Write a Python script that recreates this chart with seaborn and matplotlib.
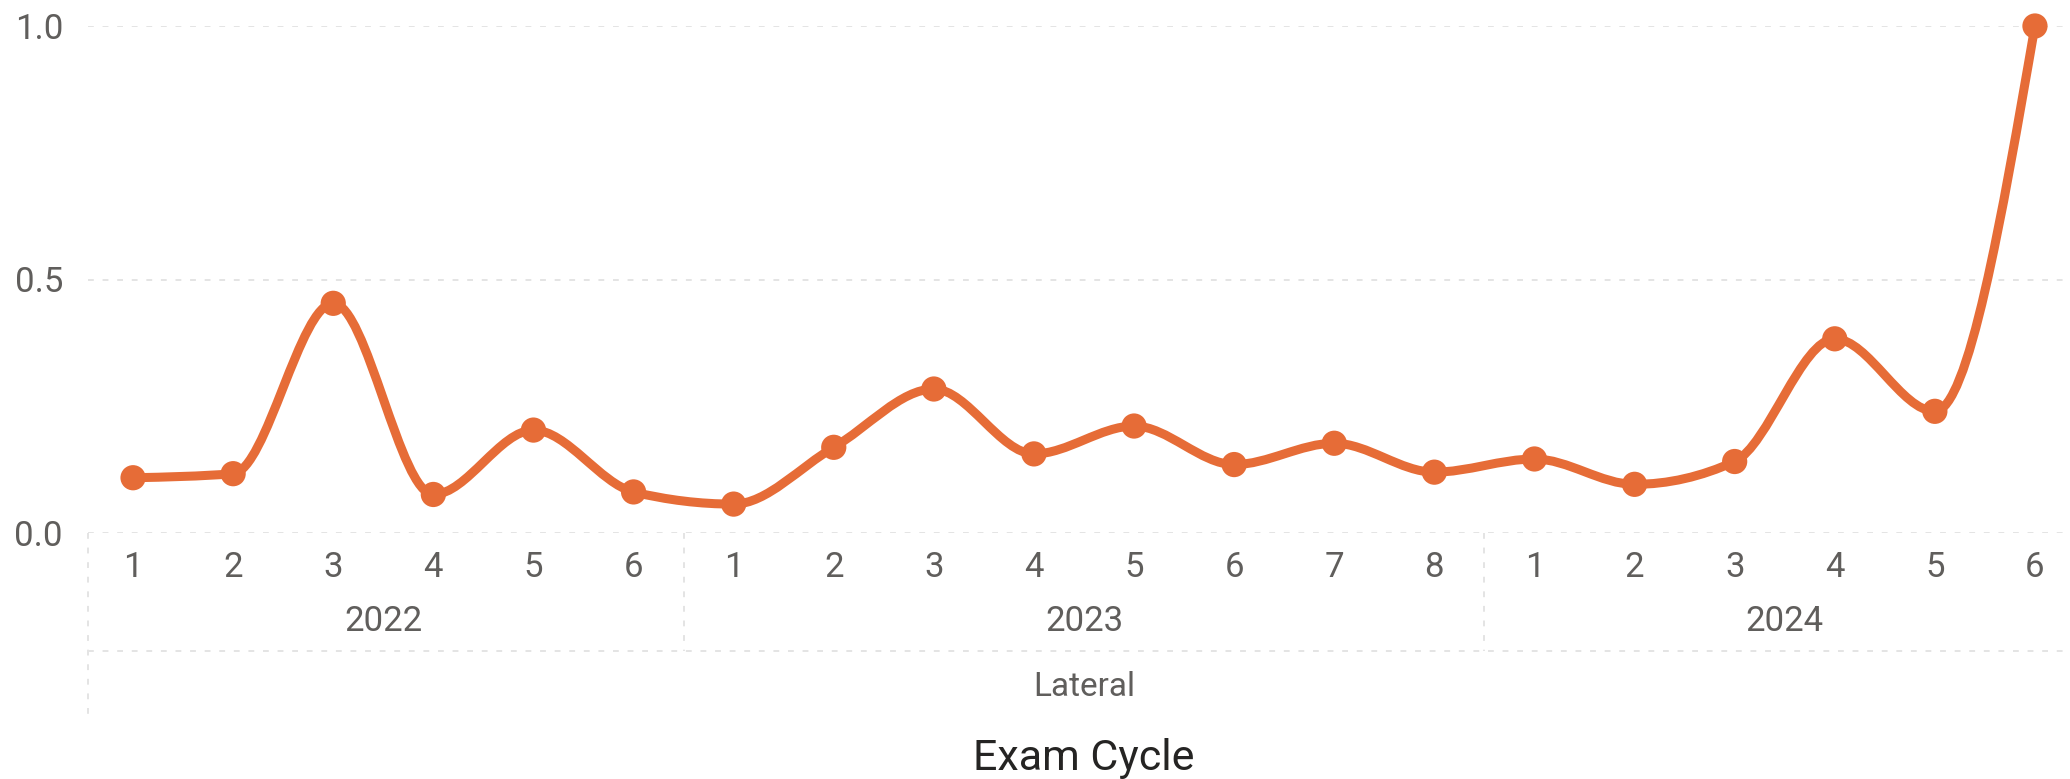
import numpy as np
import pandas as pd
import matplotlib.pyplot as plt
import seaborn as sns
from matplotlib.path import Path
from matplotlib.patches import PathPatch

# Exam cycle results, grouped by year
years = ["2022", "2023", "2024"]
cycles_per_year = [6, 8, 6]
cycle_labels = ["1", "2", "3", "4", "5", "6",
                "1", "2", "3", "4", "5", "6", "7", "8",
                "1", "2", "3", "4", "5", "6"]
values = [0.109, 0.117, 0.453, 0.076, 0.203, 0.081,
          0.057, 0.169, 0.284, 0.156, 0.211, 0.135, 0.177, 0.120,
          0.146, 0.096, 0.141, 0.383, 0.240, 1.0]
y_ticks = [0.0, 0.5, 1.0]
y_tick_labels = ["0.0", "0.5", "1.0"]
group_label = "Lateral"
x_title = "Exam Cycle"

LINE_COLOR = "#E66C37"
TICK_COLOR = "#605E5C"
TITLE_COLOR = "#252423"
GRID_COLOR = "#E4E4E4"

sns.set_theme(style="white")
plt.rcParams["font.family"] = ["Roboto", "DejaVu Sans"]

df = pd.DataFrame({"pos": np.arange(len(values)), "cycle": cycle_labels, "value": values})


def monotone_path(x, y):
    """Monotone cubic (d3 curveMonotoneX style) as a bezier path through the points."""
    n = len(x)
    t = np.zeros(n)
    for i in range(1, n - 1):
        h0, h1 = x[i] - x[i - 1], x[i + 1] - x[i]
        s0, s1 = (y[i] - y[i - 1]) / h0, (y[i + 1] - y[i]) / h1
        p = (s0 * h1 + s1 * h0) / (h0 + h1)
        t[i] = (np.sign(s0) + np.sign(s1)) * min(abs(s0), abs(s1), 0.5 * abs(p))
    t[0] = (3 * (y[1] - y[0]) / (x[1] - x[0]) - t[1]) / 2
    t[-1] = (3 * (y[-1] - y[-2]) / (x[-1] - x[-2]) - t[-2]) / 2
    verts, codes = [(x[0], y[0])], [Path.MOVETO]
    for i in range(n - 1):
        dx = x[i + 1] - x[i]
        verts += [(x[i] + dx / 3, y[i] + t[i] * dx / 3),
                  (x[i + 1] - dx / 3, y[i + 1] - t[i + 1] * dx / 3),
                  (x[i + 1], y[i + 1])]
        codes += [Path.CURVE4] * 3
    return Path(verts, codes)


fig = plt.figure(figsize=(20.7, 7.79), dpi=100)
ax = fig.add_axes([88 / 2070, 1 - 533 / 779, (2070 - 88) / 2070, (533 - 26) / 779])

# smoothed line + markers
xs = df["pos"].to_numpy(dtype=float)
ys = df["value"].to_numpy(dtype=float)
ax.add_patch(PathPatch(monotone_path(xs, ys), fill=False, edgecolor=LINE_COLOR,
                       lw=6.5, capstyle="round", joinstyle="round", clip_on=False, zorder=3))
sns.scatterplot(data=df, x="pos", y="value", ax=ax, color=LINE_COLOR, s=330,
                edgecolor="none", clip_on=False, zorder=4, legend=False)

ax.set_xlim(-0.45, 19.35)
ax.set_ylim(0, 1)
for s in ax.spines.values():
    s.set_visible(False)

# y axis
ax.set_yticks(y_ticks, y_tick_labels)
ax.tick_params(axis="y", length=0, pad=18, labelsize=25, labelcolor=TICK_COLOR)
for yv in y_ticks:
    ax.axhline(yv, color=GRID_COLOR, lw=1.4, dashes=(3, 4.5), zorder=1)

# x axis: cycle numbers
ax.set_xticks(df["pos"], df["cycle"])
ax.tick_params(axis="x", length=0, pad=13, labelsize=25, labelcolor=TICK_COLOR)
ax.set_xlabel("")
ax.set_ylabel("")

# hierarchy: year labels and separators
trans = ax.get_xaxis_transform()
sep_y = (533 - 651) / 507
low_y = (533 - 720) / 507
start = 0
for yr, n in zip(years, cycles_per_year):
    center = start + (n - 1) / 2
    ax.text(center, (533 - 631) / 507, yr, transform=trans, ha="center", va="baseline",
            fontsize=25, color=TICK_COLOR)
    if start > 0:
        ax.plot([start - 0.5, start - 0.5], [0, sep_y], transform=trans, color=GRID_COLOR,
                lw=1.4, dashes=(3, 4.5), clip_on=False)
    start += n
ax.plot([0, 1], [sep_y, sep_y], transform=ax.transAxes, color=GRID_COLOR,
        lw=1.4, dashes=(3, 4.5), clip_on=False)
ax.plot([0, 0], [0, low_y], transform=ax.transAxes, color=GRID_COLOR,
        lw=1.4, dashes=(3, 4.5), clip_on=False)

mid = (len(values) - 1) / 2
ax.text(mid, (533 - 696) / 507, group_label, transform=trans, ha="center", va="baseline",
        fontsize=24, color=TICK_COLOR)
ax.text(mid, (533 - 770) / 507, x_title, transform=trans, ha="center", va="baseline",
        fontsize=31, color=TITLE_COLOR)

fig.savefig("out.png", dpi=100)
